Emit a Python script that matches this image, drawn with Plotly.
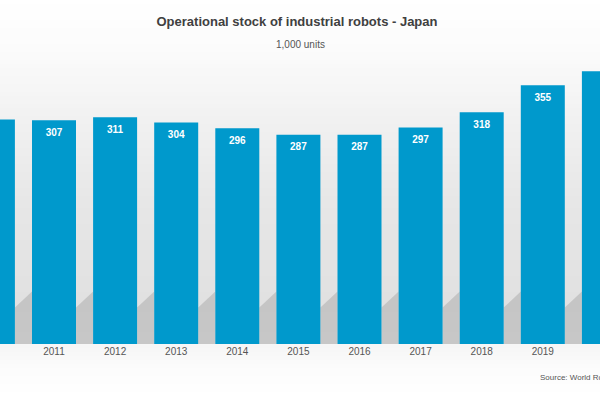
import plotly.graph_objects as go
import numpy as np

years = ["2010", "2011", "2012", "2013", "2014", "2015", "2016", "2017", "2018", "2019", "2020"]
stock = [308, 307, 311, 304, 296, 287, 287, 297, 318, 355, 374]

W, H = 600, 395
TOP, BOTTOM = 60, 344          # plot area in px
BAR_W = 0.72
BLUE = "#0099cc"
FONT = "Liberation Sans, Arial"

idx = list(range(len(years)))

fig = go.Figure()
fig.add_trace(go.Bar(
    x=idx, y=stock, width=BAR_W,
    marker=dict(color=BLUE, line=dict(width=0)),
    hoverinfo="skip",
))
fig.add_trace(go.Scatter(
    x=idx, y=stock, mode="markers+text",
    marker=dict(size=11, color="rgba(0,0,0,0)", line=dict(width=0)),
    text=[str(v) for v in stock],
    textposition="bottom center",
    textfont=dict(family=FONT, size=10, color="white", weight="bold"),
    cliponaxis=False, hoverinfo="skip",
))

# background gradient bands (styling only)
stops_px = [0, 60, 120, 200, 300, 344, 346, 370, 395]
stops_g = [255, 250, 241, 231, 225, 227, 246, 252, 255]
shapes = []
step = 4
for py in range(0, H, step):
    g = int(round(np.interp(py + step / 2, stops_px, stops_g)))
    y0 = (BOTTOM - (py + step)) / (BOTTOM - TOP)
    y1 = (BOTTOM - py) / (BOTTOM - TOP)
    shapes.append(dict(type="rect", xref="paper", yref="paper", x0=-0.01, x1=1.01,
                       y0=y0, y1=y1, fillcolor=f"rgb({g},{g},{g})",
                       line=dict(width=0), layer="below"))

# floor shadows to the right of each bar
for i in idx[:-1]:
    xr = i + BAR_W / 2
    xl = i + 1 - BAR_W / 2
    path = f"M {xr} 0 L {xr} 50 L {xl} 72 L {xl} 0 Z"
    shapes.append(dict(type="path", xref="x", yref="y", path=path,
                       fillcolor="rgba(0,0,0,0.12)", line=dict(width=0), layer="below"))

px_per_idx = 61.1
center0 = -7.1
x_lo = (0 - center0) / px_per_idx
x_hi = (W - center0) / px_per_idx
y_hi = (BOTTOM - TOP) / 0.729

fig.update_layout(
    width=W, height=H,
    margin=dict(l=0, r=0, t=TOP, b=H - BOTTOM, pad=0),
    paper_bgcolor="white", plot_bgcolor="rgba(0,0,0,0)",
    showlegend=False,
    shapes=shapes,
    title=dict(text="<b>Operational stock of industrial robots - Japan</b>",
               x=0.495, xanchor="center", y=1 - 21 / H, yanchor="middle",
               font=dict(family=FONT, size=13, color="#404040")),
    xaxis=dict(range=[x_lo, x_hi], tickmode="array", tickvals=idx, ticktext=years,
               showgrid=False, zeroline=False, showline=False, ticks="",
               tickfont=dict(family=FONT, size=10, color="#555555")),
    yaxis=dict(range=[0, y_hi], visible=False, showgrid=False, zeroline=False),
    annotations=[
        dict(text="1,000 units", xref="paper", yref="paper", x=0.5, xanchor="center",
             y=(BOTTOM - 44) / (BOTTOM - TOP), yanchor="middle", showarrow=False,
             font=dict(family=FONT, size=10, color="#555555")),
        dict(text="Source: World Robotics", xref="paper", yref="paper", x=538 / W, xanchor="left",
             y=(BOTTOM - 377) / (BOTTOM - TOP), yanchor="middle", showarrow=False,
             font=dict(family=FONT, size=8, color="#555555")),
    ],
)

fig.write_html("out.html", config={"displayModeBar": False},
               post_script="document.body.style.margin='0';document.body.style.overflow='hidden';")
